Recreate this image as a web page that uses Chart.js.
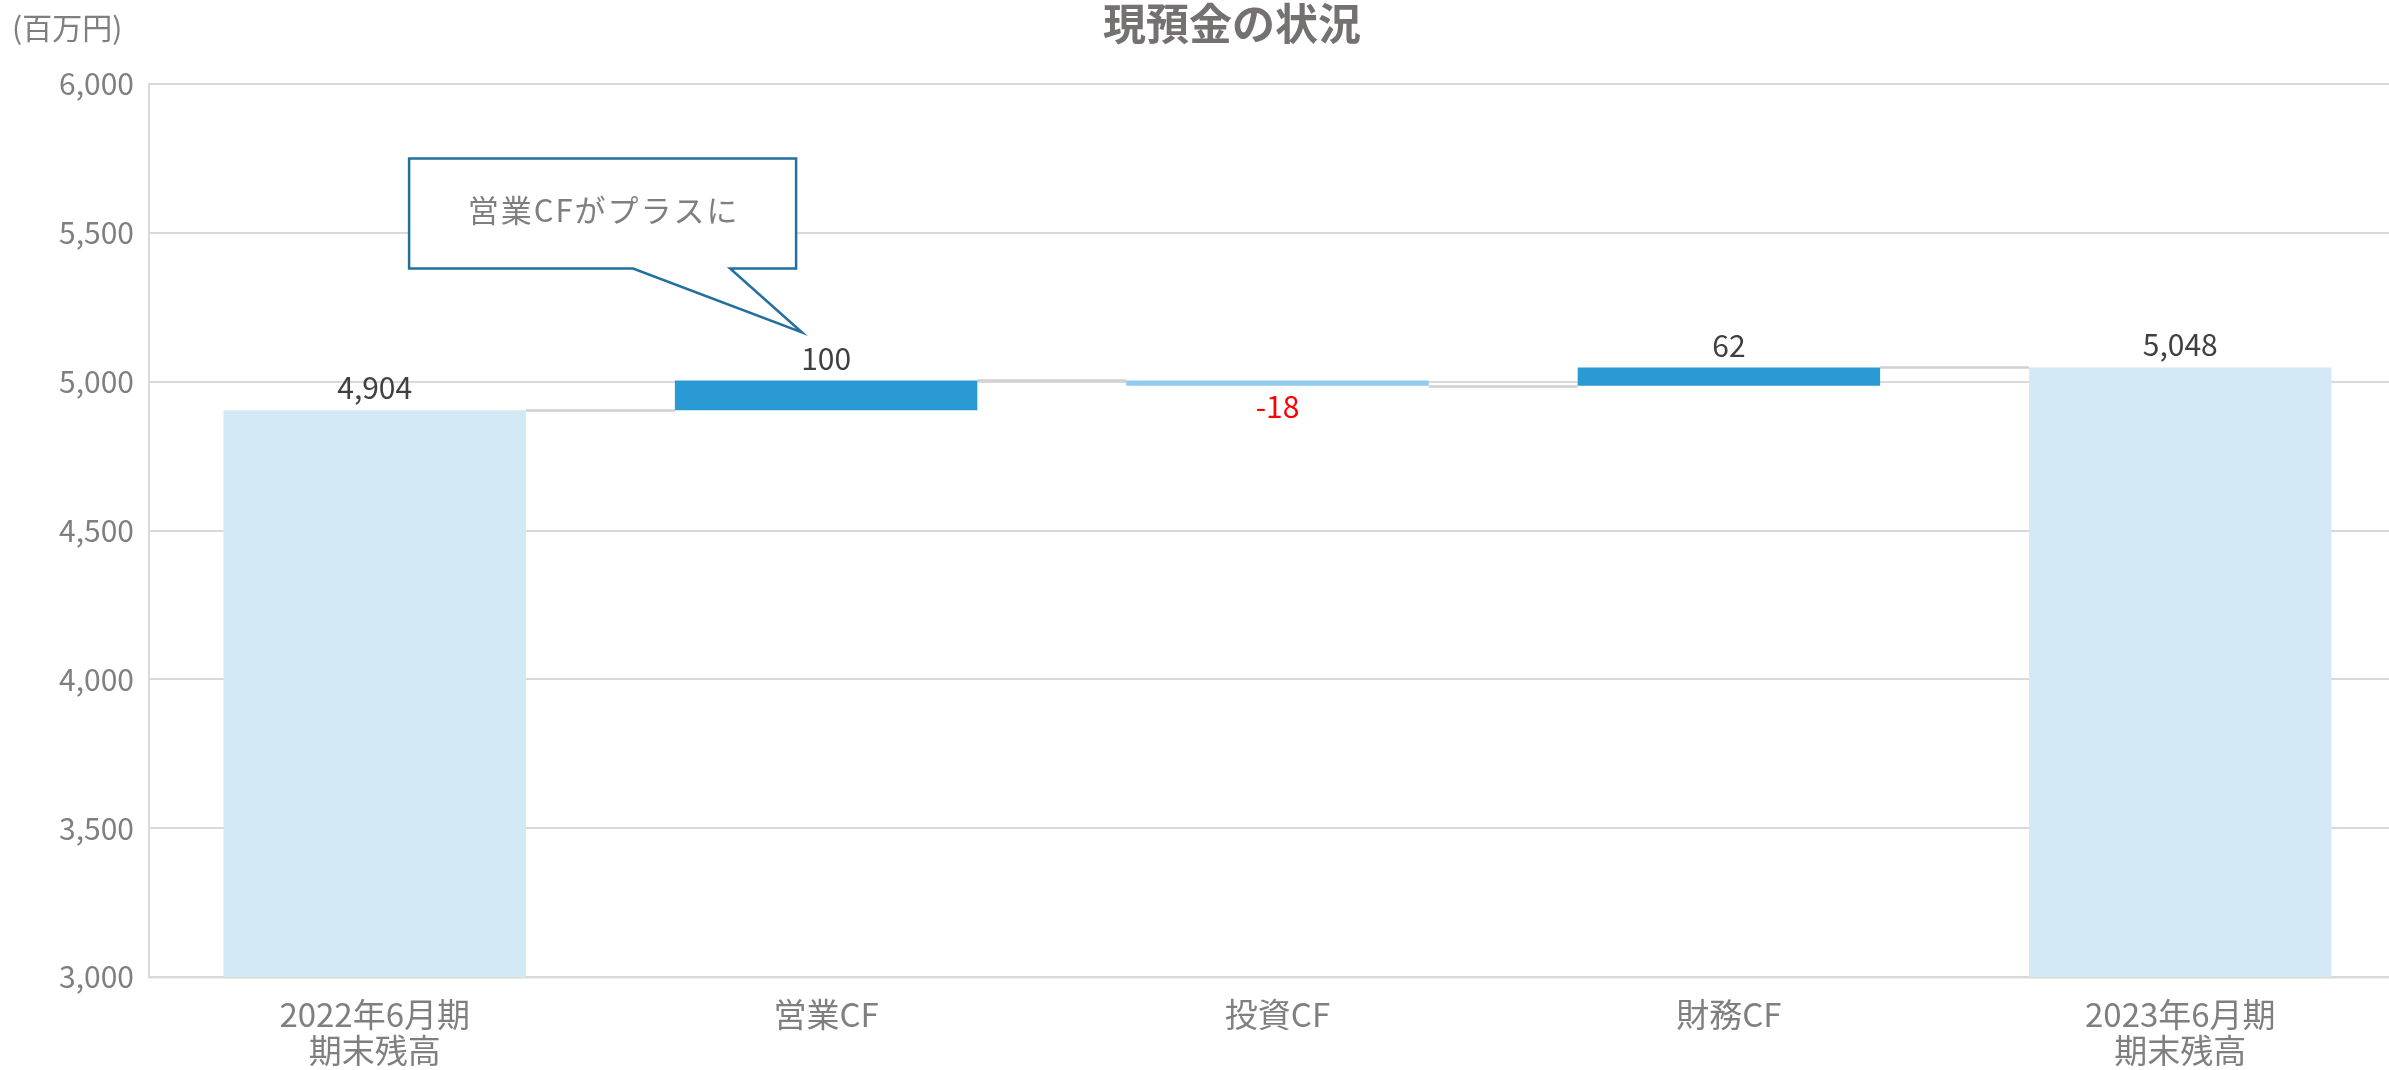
<!DOCTYPE html>
<html>
<head>
<meta charset="utf-8">
<script src="https://cdn.jsdelivr.net/npm/chart.js@4.4.1/dist/chart.umd.min.js"></script>
<style>
html,body{margin:0;padding:0;background:#fff;overflow:hidden;}
#wrap{width:2389px;height:1070px;overflow:hidden;position:relative;}
canvas{display:block;}
</style>
</head>
<body>
<div id="wrap"><canvas id="c" width="2406" height="1070"></canvas></div>
<script>
// ---- data ----
const categories = [['2022年6月期','期末残高'], '営業CF', '投資CF', '財務CF', ['2023年6月期','期末残高']];
const openingBalance = 4904;
const changes = [100, -18, 62];
const closingBalance = 5048;
const yTicks = [3000, 3500, 4000, 4500, 5000, 5500, 6000];
const chartTitle = '現預金の状況';
const unitLabel = '(百万円)';
const calloutText = '営業CFがプラスに';

// ---- build waterfall from the arrays ----
const barData = [openingBalance];
const barKinds = ['total'];
let cum = openingBalance;
changes.forEach(c => {
  barData.push([cum, cum + c]);
  barKinds.push(c >= 0 ? 'up' : 'down');
  cum += c;
});
barData.push(closingBalance);
barKinds.push('total');
const levels = [openingBalance];
let acc = openingBalance;
changes.forEach(c => { acc += c; levels.push(acc); });

const colorMap = {total: '#d4e9f6', up: '#2a9ad5', down: '#8ecbee'};
const FONT = '"Noto Sans CJK JP", "Noto Sans", sans-serif';

const fmt = n => n.toLocaleString('en-US');

const wfPlugin = {
  id: 'wf',
  beforeDatasetsDraw(chart) {
    const ctx = chart.ctx;
    const meta = chart.getDatasetMeta(0);
    const y = chart.scales.y;
    ctx.save();
    ctx.strokeStyle = '#d0d0d0';
    ctx.lineWidth = 2.5;
    for (let i = 0; i < levels.length; i++) {
      const a = meta.data[i], b = meta.data[i + 1];
      const py = Math.round(y.getPixelForValue(levels[i])) + 0.5;
      ctx.beginPath();
      ctx.moveTo(a.x + a.width / 2, py);
      ctx.lineTo(b.x - b.width / 2, py);
      ctx.stroke();
    }
    ctx.restore();
  },
  afterDatasetsDraw(chart) {
    const ctx = chart.ctx;
    const meta = chart.getDatasetMeta(0);
    const y = chart.scales.y;
    ctx.save();
    ctx.font = '30px ' + FONT;
    ctx.textAlign = 'center';
    // data labels
    barData.forEach((d, i) => {
      const el = meta.data[i];
      let text, color = '#404040', py;
      if (Array.isArray(d)) {
        const v = d[1] - d[0];
        text = String(v);
        if (v < 0) {
          color = '#ff0000';
          py = y.getPixelForValue(Math.min(d[0], d[1])) + 21;
        } else {
          py = y.getPixelForValue(Math.max(d[0], d[1])) - 22;
        }
      } else {
        text = fmt(d);
        py = y.getPixelForValue(d) - 23;
      }
      ctx.fillStyle = color;
      ctx.textBaseline = 'middle';
      ctx.fillText(text, el.x, py);
    });

    // callout anchored to the 営業CF bar
    const el = meta.data[1];
    const tipX = el.x - 24;
    const tipY = y.getPixelForValue(barData[1][1]) - 48;
    const L = tipX - 393, R = tipX - 6, T = tipY - 174, B = tipY - 64;
    ctx.beginPath();
    ctx.moveTo(L, T);
    ctx.lineTo(R, T);
    ctx.lineTo(R, B);
    ctx.lineTo(tipX - 72, B);
    ctx.lineTo(tipX, tipY);
    ctx.lineTo(tipX - 169, B);
    ctx.lineTo(L, B);
    ctx.closePath();
    ctx.fillStyle = '#ffffff';
    ctx.fill();
    ctx.lineWidth = 2.5;
    ctx.strokeStyle = '#236f9e';
    ctx.stroke();
    ctx.fillStyle = '#7f7f7f';
    ctx.font = '31px ' + FONT;
    ctx.letterSpacing = '2px';
    ctx.textBaseline = 'middle';
    ctx.fillText(calloutText, (L + R) / 2 + 1, (T + B) / 2 - 3);
    ctx.letterSpacing = '0px';

    // title and unit
    ctx.font = 'bold 43px ' + FONT;
    ctx.fillStyle = '#767171';
    ctx.fillText(chartTitle, 1232, 24);
    ctx.font = '30px ' + FONT;
    ctx.fillStyle = '#7f7f7f';
    ctx.textAlign = 'left';
    ctx.fillText(unitLabel, 12, 28);
    ctx.restore();
  }
};

new Chart(document.getElementById('c'), {
  type: 'bar',
  data: {
    labels: categories,
    datasets: [{
      data: barData,
      backgroundColor: barKinds.map(k => colorMap[k]),
      borderWidth: 0,
      categoryPercentage: 1,
      barPercentage: 0.67
    }]
  },
  options: {
    responsive: false,
    animation: false,
    devicePixelRatio: 1,
    layout: {padding: {top: 84, left: 0, right: 0, bottom: 0}},
    plugins: {legend: {display: false}, tooltip: {enabled: false}, title: {display: false}},
    scales: {
      x: {
        grid: {display: false, drawTicks: false},
        border: {color: '#d9d9d9', width: 2.5},
        ticks: {color: '#7f7f7f', font: {family: FONT, size: 33, lineHeight: 1.11}, padding: 19, maxRotation: 0, autoSkip: false},
        afterFit(s) { s.height = 93; }
      },
      y: {
        min: yTicks[0],
        max: yTicks[yTicks.length - 1],
        afterBuildTicks(s) { s.ticks = yTicks.map(v => ({value: v})); },
        grid: {color: '#d9d9d9', lineWidth: 2, drawTicks: false},
        border: {color: '#d9d9d9', width: 2},
        ticks: {color: '#7f7f7f', font: {family: FONT, size: 30}, padding: 15, callback: v => fmt(v)},
        afterFit(s) { s.width = 149; }
      }
    }
  },
  plugins: [wfPlugin]
});
</script>
</body>
</html>
